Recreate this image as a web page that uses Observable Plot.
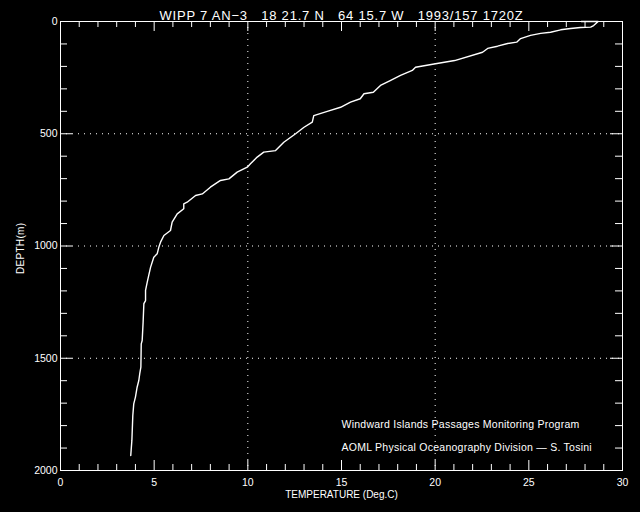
<!DOCTYPE html>
<html>
<head>
<meta charset="utf-8">
<script src="https://cdn.jsdelivr.net/npm/d3@7"></script>
<script src="https://cdn.jsdelivr.net/npm/@observablehq/plot@0.6"></script>
<style>
  html, body { margin: 0; padding: 0; background: #000; }
</style>
</head>
<body>
<div id="chart"></div>
<script>
const title = "WIPP 7 AN\u22123   18 21.7 N   64 15.7 W   1993/157 1720Z";
const xLabel = "TEMPERATURE (Deg.C)";
const yLabel = "DEPTH(m)";
const notes = ["Windward Islands Passages Monitoring Program", "AOML Physical Oceanography Division \u2014 S. Tosini"];
const noteDepths = [1795, 1898];

const depth = [0, 0, 18, 25, 27, 31, 37, 48, 53, 62, 76, 92, 98, 110, 120, 137, 174, 188, 204, 218,
  240, 263, 285, 315, 322, 344, 359, 382, 400, 419, 448, 471, 500, 538, 575, 582, 604, 634, 649, 671,
  701, 708, 738, 768, 775, 805, 812, 834, 857, 894, 931, 953, 983, 1005, 1035, 1050, 1094, 1131, 1161, 1198,
  1243, 1257, 1339, 1421, 1436, 1540, 1569, 1599, 1629, 1673, 1703, 1755, 1866, 1933];
const temperature = [27.8, 28.7, 28.46, 28.3, 27.76, 27.23, 26.7, 26.16, 25.63, 25.09, 24.56, 24.35, 23.87, 23.33, 22.8, 22.53, 21.04, 20.02, 18.95, 18.78,
  18.15, 17.6, 17.08, 16.7, 16.2, 16.0, 15.48, 14.95, 14.24, 13.52, 13.44, 13.0, 12.55, 11.92, 11.48, 10.85, 10.5, 10.14, 9.97, 9.43,
  8.99, 8.54, 8.0, 7.57, 7.21, 6.76, 6.58, 6.58, 6.23, 5.96, 5.87, 5.52, 5.34, 5.25, 5.16, 4.98, 4.81, 4.71, 4.63, 4.54,
  4.54, 4.45, 4.41, 4.36, 4.31, 4.29, 4.23, 4.18, 4.09, 4.0, 3.91, 3.86, 3.81, 3.75];

const xMajor = [0, 5, 10, 15, 20, 25, 30];
const xMinor = d3.range(0, 31, 1).filter(v => v % 5 !== 0);
const yMajor = [0, 500, 1000, 1500, 2000];
const yMinor = d3.range(0, 2001, 100).filter(v => v % 500 !== 0);
const xGrid = [10, 20];
const yGrid = [500, 1000, 1500];

const profile = depth.map((d, i) => ({D: d, T: temperature[i]}));

const W = 640, H = 512, mT = 21, mB = 42, mL = 60, mR = 18;
const fh = H - mT - mB, fw = W - mL - mR;
const col = "#fff";
const font = "Liberation Sans, Arial, sans-serif";

const chart = Plot.plot({
  width: W, height: H,
  marginTop: mT, marginBottom: mB, marginLeft: mL, marginRight: mR,
  style: {background: "#000", color: col, fontFamily: font, fontSize: "10px"},
  x: {domain: [0, 30], label: null},
  y: {domain: [0, 2000], reverse: true, label: null},
  marks: [
    Plot.gridX(xGrid, {stroke: col, strokeOpacity: 1, strokeDasharray: "1,5"}),
    Plot.gridY(yGrid, {stroke: col, strokeOpacity: 1, strokeDasharray: "1,5"}),
    // bottom & top ticks
    Plot.tickX(xMinor, {x: d => d, stroke: col, insetTop: fh - 6}),
    Plot.tickX(xMajor, {x: d => d, stroke: col, insetTop: fh - 10}),
    Plot.tickX(xMinor, {x: d => d, stroke: col, insetBottom: fh - 6}),
    Plot.tickX(xMajor, {x: d => d, stroke: col, insetBottom: fh - 10}),
    // left & right ticks
    Plot.tickY(yMinor, {y: d => d, stroke: col, insetRight: fw - 7}),
    Plot.tickY(yMajor, {y: d => d, stroke: col, insetRight: fw - 12}),
    Plot.tickY(yMinor, {y: d => d, stroke: col, insetLeft: fw - 7}),
    Plot.tickY(yMajor, {y: d => d, stroke: col, insetLeft: fw - 12}),
    Plot.axisX({ticks: xMajor, tickSize: 0, tickPadding: 8, tickFormat: d3.format("d"), fontSize: 10.5, label: null}),
    Plot.axisY({ticks: yMajor, tickSize: 0, tickPadding: 3, tickFormat: d3.format("d"), fontSize: 10.5, label: null}),
    Plot.frame({stroke: col}),
    Plot.line(profile, {x: "T", y: "D", stroke: col, strokeWidth: 1.4}),
    Plot.text(notes, {x: 15, y: (d, i) => noteDepths[i], text: d => d, textAnchor: "start", fill: col, fontSize: 10.5}),
    Plot.text([title], {frameAnchor: "top", dy: -11, text: d => d, fill: col, fontSize: 13}),
    Plot.text([xLabel], {frameAnchor: "bottom", dy: 27, text: d => d, fill: col, fontSize: 10}),
    Plot.text([yLabel], {frameAnchor: "left", dx: -40, dy: 28, rotate: -90, text: d => d, fill: col, fontSize: 10})
  ]
});
chart.querySelectorAll("text").forEach(t => {
  const s = t.textContent;
  if (s === title) { t.style.letterSpacing = "0.8px"; t.style.whiteSpace = "pre"; }
  if (notes.includes(s)) t.style.letterSpacing = "0.25px";
  if (s === yLabel) t.style.letterSpacing = "0.3px";
});
document.getElementById("chart").appendChild(chart);
</script>
</body>
</html>
